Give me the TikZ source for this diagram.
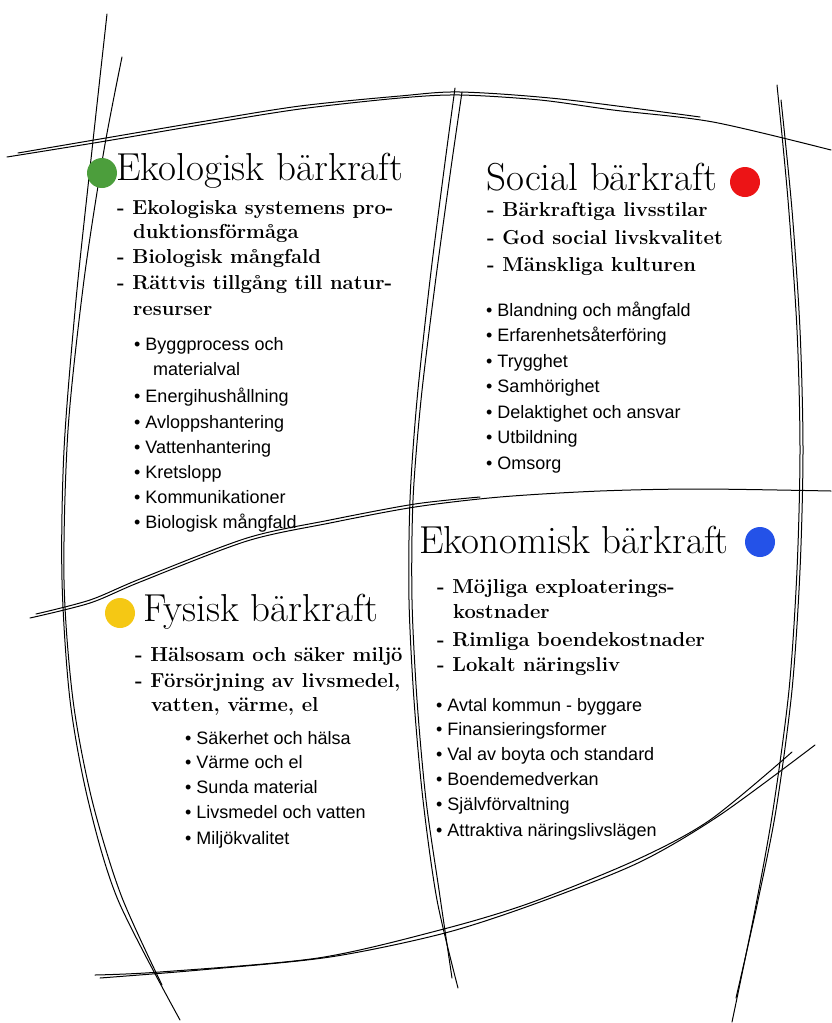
\documentclass[tikz,border=0pt]{standalone}
\usepackage{fontspec}
\newfontfamily\sansf{Liberation Sans}
\definecolor{ekogreen}{RGB}{76,158,60}
\definecolor{socred}{RGB}{236,20,22}
\definecolor{ekoblue}{RGB}{36,82,232}
\definecolor{fysyellow}{RGB}{245,200,20}
\tikzset{
  titletext/.style={anchor=base west, inner sep=0pt, font=\fontsize{39}{43}\selectfont},
  dashitem/.style={anchor=base west, inner sep=0pt, font=\fontsize{20.2}{23}\selectfont\bfseries},
  bul/.style={anchor=base west, inner sep=0pt, font=\sansf\fontsize{18}{21}\selectfont},
  sketch/.style={line width=1pt, line cap=round, line join=round},
  colordot/.style={circle, inner sep=0pt, minimum size=30pt, draw=none}
}
\begin{document}
\begin{tikzpicture}[x=1pt,y=-1pt]
\useasboundingbox (0,0) rectangle (831,1023);
\fill[white] (0,0) rectangle (831,1023);

% sketch lines
\draw[sketch] plot[smooth] coordinates {(7,157) (100,142) (200,125) (300,109) (400,98) (460,95) (540,100) (613,110) (713,122) (831,150)};
\draw[sketch] plot[smooth] coordinates {(18,153) (100,139) (200,122) (300,106) (400,96) (460,92) (560,99) (700,117)};
\draw[sketch] plot[smooth] coordinates {(107,14) (92,150) (76,300) (64,450) (62,580) (70,700) (88,800) (118,900) (180,1020)};
\draw[sketch] plot[smooth] coordinates {(122,57) (104,150) (84,280) (68,430) (64,580) (73,700) (92,800) (121,895) (162,985)};
\draw[sketch] plot[smooth] coordinates {(455,88) (444,170) (430,280) (417,400) (410,500) (409,600) (414,700) (423,800) (437,900) (458,988)};
\draw[sketch] plot[smooth] coordinates {(462,92) (450,175) (435,285) (421,400) (413,500) (412,600) (417,700) (426,800) (439,890) (452,978)};
\draw[sketch] plot[smooth] coordinates {(777,85) (788,200) (797,330) (800,450) (797,570) (789,690) (773,810) (755,910) (732,1022)};
\draw[sketch] plot[smooth] coordinates {(781,100) (792,210) (800,330) (803,450) (800,570) (792,690) (776,810) (757,905) (736,998)};
\draw[sketch] plot[smooth] coordinates {(30,618) (90,603) (140,582) (247,541) (330,523) (415,507) (500,497) (600,491) (700,489) (831,491)};
\draw[sketch] plot[smooth] coordinates {(36,614) (90,600) (140,579) (247,538) (330,520) (415,504) (480,497)};
\draw[sketch] plot[smooth] coordinates {(95,975) (160,972) (318,958) (440,930) (530,903) (636,860) (710,820) (792,752)};
\draw[sketch] plot[smooth] coordinates {(100,978) (200,970) (330,957) (445,933) (540,902) (640,862) (720,815) (815,745)};

% Ekologisk
\node[colordot, fill=ekogreen] (ekodot) at (102,173) {};
\node[titletext] (ekotitle) at (116,180) {Ekologisk bärkraft};
\node[dashitem] (eko1) at (117,214) {- Ekologiska systemens pro-};
\node[dashitem] (eko1b) at (133,238) {duktionsförmåga};
\node[dashitem] (eko2) at (117,263) {- Biologisk mångfald};
\node[dashitem] (eko3) at (117,289) {- Rättvis tillgång till natur-};
\node[dashitem] (eko3b) at (133,315) {resurser};
\node[bul] (ekob1) at (134,350) {• Byggprocess och};
\node[bul] (ekob1b) at (153,375) {materialval};
\node[bul] (ekob2) at (134,402) {• Energihushållning};
\node[bul] (ekob3) at (134,428) {• Avloppshantering};
\node[bul] (ekob4) at (134,453) {• Vattenhantering};
\node[bul] (ekob5) at (134,478) {• Kretslopp};
\node[bul] (ekob6) at (134,503) {• Kommunikationer};
\node[bul] (ekob7) at (134,528) {• Biologisk mångfald};

% Social
\node[titletext] (soctitle) at (486,190) {Social bärkraft};
\node[colordot, fill=socred] (socdot) at (745,182) {};
\node[dashitem] (soc1) at (487,216) {- Bärkraftiga livsstilar};
\node[dashitem] (soc2) at (487,244) {- God social livskvalitet};
\node[dashitem] (soc3) at (487,271) {- Mänskliga kulturen};
\node[bul] (socb1) at (486,316) {• Blandning och mångfald};
\node[bul] (socb2) at (486,341) {• Erfarenhetsåterföring};
\node[bul] (socb3) at (486,367) {• Trygghet};
\node[bul] (socb4) at (486,392) {• Samhörighet};
\node[bul] (socb5) at (486,418) {• Delaktighet och ansvar};
\node[bul] (socb6) at (486,443) {• Utbildning};
\node[bul] (socb7) at (486,469) {• Omsorg};

% Ekonomisk
\node[titletext] (ektitle) at (419,553) {Ekonomisk bärkraft};
\node[colordot, fill=ekoblue] (ekdot) at (760,542) {};
\node[dashitem] (ek1) at (437,593) {- Möjliga exploaterings-};
\node[dashitem] (ek1b) at (453,618) {kostnader};
\node[dashitem] (ek2) at (437,646) {- Rimliga boendekostnader};
\node[dashitem] (ek3) at (437,671) {- Lokalt näringsliv};
\node[bul] (ekb1) at (436,711) {• Avtal kommun - byggare};
\node[bul] (ekb2) at (436,735) {• Finansieringsformer};
\node[bul] (ekb3) at (436,760) {• Val av boyta och standard};
\node[bul] (ekb4) at (436,785) {• Boendemedverkan};
\node[bul] (ekb5) at (436,810) {• Självförvaltning};
\node[bul] (ekb6) at (436,836) {• Attraktiva näringslivslägen};

% Fysisk
\node[colordot, fill=fysyellow] (fysdot) at (120,613) {};
\node[titletext] (fystitle) at (143,621) {Fysisk bärkraft};
\node[dashitem] (fys1) at (135,661) {- Hälsosam och säker miljö};
\node[dashitem] (fys2) at (135,687) {- Försörjning av livsmedel,};
\node[dashitem] (fys2b) at (151,711) {vatten, värme, el};
\node[bul] (fysb1) at (185,744) {• Säkerhet och hälsa};
\node[bul] (fysb2) at (185,768) {• Värme och el};
\node[bul] (fysb3) at (185,793) {• Sunda material};
\node[bul] (fysb4) at (185,818) {• Livsmedel och vatten};
\node[bul] (fysb5) at (185,844) {• Miljökvalitet};
\end{tikzpicture}
\end{document}
